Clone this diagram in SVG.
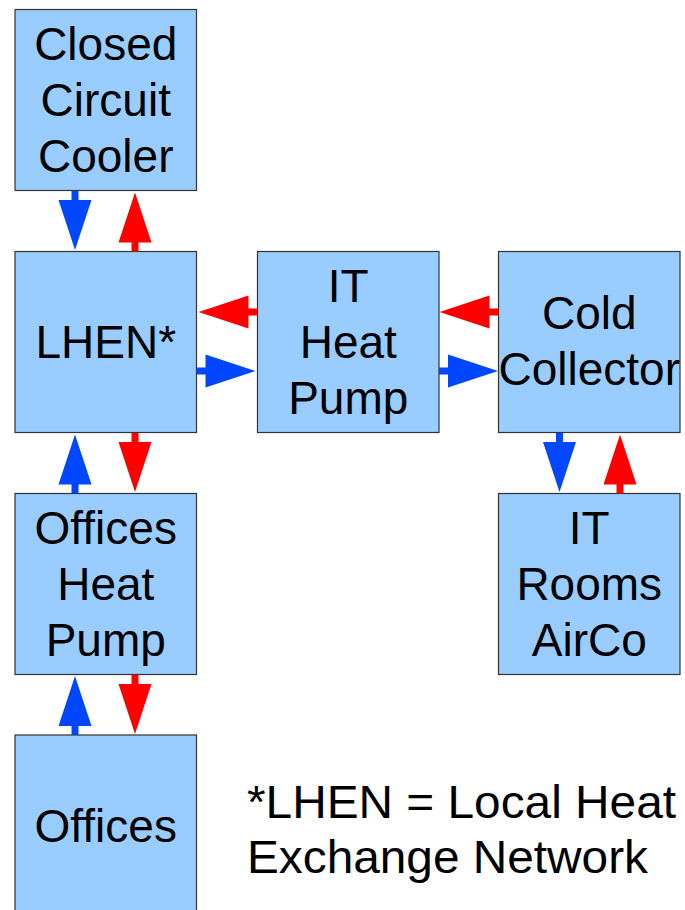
<svg xmlns="http://www.w3.org/2000/svg" xmlns:xlink="http://www.w3.org/1999/xlink" width="685" height="910" viewBox="0 0 685 910">
<style>
.box{fill:#99ccff;stroke:#333333;stroke-width:1.2}
.t{font-family:"Liberation Sans",Arial,sans-serif;font-size:46px;fill:#000;text-anchor:middle}
.n{font-family:"Liberation Sans",Arial,sans-serif;font-size:47px;fill:#000}
.blue{fill:#0047ff}
.red{fill:#ff0000}
</style>
<defs>
<path id="arr" d="M-3.5,0 H3.5 V9 H16.5 L0,59 L-16.5,9 H-3.5 Z"/>
</defs>
<rect width="685" height="910" fill="#ffffff"/>
<g id="closed-circuit-cooler">
<rect class="box" x="15" y="9.5" width="181.5" height="181"/>
<text class="t" x="105.75" y="60">Closed</text>
<text class="t" x="105.75" y="116">Circuit</text>
<text class="t" x="105.75" y="172">Cooler</text>
</g>
<g id="lhen">
<rect class="box" x="15" y="251.5" width="181.5" height="181"/>
<text class="t" x="105.75" y="358">LHEN*</text>
</g>
<g id="it-heat-pump">
<rect class="box" x="257.5" y="251.5" width="181.5" height="181"/>
<text class="t" x="348.25" y="302">IT</text>
<text class="t" x="348.25" y="358">Heat</text>
<text class="t" x="348.25" y="414">Pump</text>
</g>
<g id="cold-collector">
<rect class="box" x="498.5" y="251.5" width="181.5" height="181"/>
<text class="t" x="589.25" y="329">Cold</text>
<text class="t" x="589.25" y="385">Collector</text>
</g>
<g id="offices-heat-pump">
<rect class="box" x="15" y="493.5" width="181.5" height="181"/>
<text class="t" x="105.75" y="544">Offices</text>
<text class="t" x="105.75" y="600">Heat</text>
<text class="t" x="105.75" y="656">Pump</text>
</g>
<g id="it-rooms-airco">
<rect class="box" x="498.5" y="493.5" width="181.5" height="181"/>
<text class="t" x="589.25" y="544">IT</text>
<text class="t" x="589.25" y="600">Rooms</text>
<text class="t" x="589.25" y="656">AirCo</text>
</g>
<g id="offices">
<rect class="box" x="15" y="735" width="181.5" height="181"/>
<text class="t" x="105.75" y="842">Offices</text>
</g>
<g id="connectors">
<use xlink:href="#arr" class="blue" transform="translate(75,191)"/>
<use xlink:href="#arr" class="red" transform="translate(135,251.5) rotate(180)"/>
<use xlink:href="#arr" class="red" transform="translate(257.5,312) rotate(90)"/>
<use xlink:href="#arr" class="blue" transform="translate(196.5,371) rotate(-90)"/>
<use xlink:href="#arr" class="red" transform="translate(498.5,312) rotate(90)"/>
<use xlink:href="#arr" class="blue" transform="translate(439,371) rotate(-90)"/>
<use xlink:href="#arr" class="blue" transform="translate(559.5,433)"/>
<use xlink:href="#arr" class="red" transform="translate(620,493.5) rotate(180)"/>
<use xlink:href="#arr" class="blue" transform="translate(75,493.5) rotate(180)"/>
<use xlink:href="#arr" class="red" transform="translate(135,433)"/>
<use xlink:href="#arr" class="blue" transform="translate(75,735) rotate(180)"/>
<use xlink:href="#arr" class="red" transform="translate(135,675)"/>
</g>
<g id="footnote">
<text class="n" x="247" y="818" textLength="429" lengthAdjust="spacingAndGlyphs">*LHEN = Local Heat</text>
<text class="n" x="247" y="873" textLength="401" lengthAdjust="spacingAndGlyphs">Exchange Network</text>
</g>
</svg>
